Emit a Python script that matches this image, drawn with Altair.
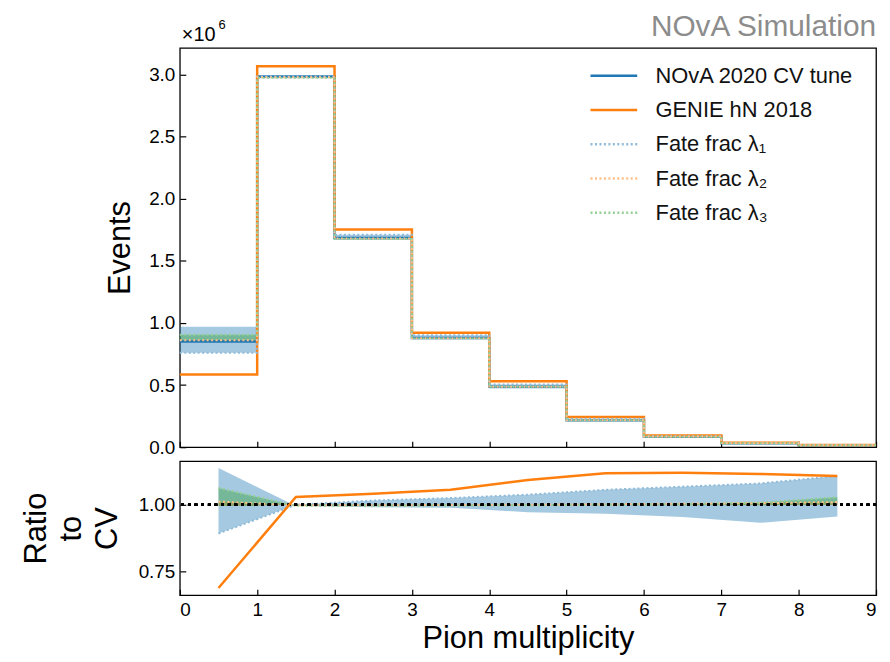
import altair as alt
import pandas as pd

# ---------------- data ----------------
bin_edges = [0, 1, 2, 3, 4, 5, 6, 7, 8, 9]
bin_centers = [0.5, 1.5, 2.5, 3.5, 4.5, 5.5, 6.5, 7.5, 8.5]

# events per bin, in units of 1e6
cv_events = [0.852, 2.986, 1.684, 0.879, 0.487, 0.217, 0.084, 0.031, 0.016]
genie_events = [0.586, 3.068, 1.754, 0.922, 0.532, 0.243, 0.094, 0.035, 0.018]

# ratio to CV (lower panel)
ratio_genie = [0.687, 1.029, 1.041, 1.056, 1.093, 1.118, 1.120, 1.116, 1.108]
lam1_edge = [0.892, 1.000, 1.016, 1.025, 1.038, 1.056, 1.068, 1.080, 1.108]
lam1_other = [1.138, 0.995, 0.991, 0.989, 0.972, 0.966, 0.954, 0.932, 0.956]
lam2_edge = [1.012, 0.998, 0.998, 0.999, 1.000, 1.002, 1.004, 1.006, 1.010]
lam2_other = [0.995, 1.000, 1.000, 1.000, 1.000, 1.000, 0.999, 0.999, 0.999]
lam3_edge = [1.063, 0.996, 0.996, 0.997, 0.998, 1.000, 1.002, 1.008, 1.028]
lam3_other = [0.995, 1.000, 1.000, 1.000, 1.000, 0.999, 0.998, 0.998, 1.000]

series_names = ["NOvA 2020 CV tune", "GENIE hN 2018",
                "Fate frac λ₁", "Fate frac λ₂", "Fate frac λ₃"]
x_ticks = [0, 1, 2, 3, 4, 5, 6, 7, 8, 9]
y_ticks_top = [0.0, 0.5, 1.0, 1.5, 2.0, 2.5, 3.0]
y_ticks_ratio = [0.75, 1.00]
annotations = ["×10", "6", "NOvA Simulation"]
ratio_title = ["Ratio", "to", "CV"]

BLUE, ORANGE, GREEN = "#1f77b4", "#ff7f0e", "#2ca02c"
LBLUE, LORANGE, LGREEN = "#8fbbd9", "#ffbf86", "#95cf95"
FONT = "Liberation Sans"
W, H_TOP, H_RAT = 701, 402, 135

lam_sets = [(series_names[2], lam1_edge, lam1_other, BLUE, LBLUE),
            (series_names[3], lam2_edge, lam2_other, ORANGE, LORANGE),
            (series_names[4], lam3_edge, lam3_other, GREEN, LGREEN)]


def stepped(v):
    return list(v) + [v[-1]]


# top panel tables
rows = []
for name, vals in [(series_names[0], cv_events), (series_names[1], genie_events)]:
    for x, y in zip(bin_edges, stepped(vals)):
        rows.append({"series": name, "x": x, "y": y})
brows = []
for name, e, o, _c, _l in lam_sets:
    for x, c, ee, oo in zip(bin_edges, stepped(cv_events), stepped(e), stepped(o)):
        rows.append({"series": name, "x": x, "y": c * ee})
        brows.append({"band": name, "x": x, "lo": c * ee, "hi": c * oo})
top_lines = pd.DataFrame(rows)
top_bands = pd.DataFrame(brows)

# ratio tables
rrows = []
for name, e, o, _c, _l in lam_sets:
    for x, ee, oo in zip(bin_centers, e, o):
        rrows.append({"band": name, "x": x, "lo": ee, "hi": oo})
ratio_bands = pd.DataFrame(rrows)
ratio_line = pd.DataFrame({"x": bin_centers, "y": ratio_genie})
ann = pd.DataFrame({"t": annotations})

# ---------------- scales / axes ----------------
x_scale = alt.Scale(domain=[0, 9], nice=False, zero=False)
y_top_scale = alt.Scale(domain=[0, 3.215], nice=False)
y_rat_scale = alt.Scale(domain=[0.66, 1.164], nice=False, zero=False)

common_axis = dict(tickSize=6, offset=-6, domain=False, grid=False,
                   tickColor="black", tickWidth=1.2, labelColor="black",
                   labelFont=FONT, labelFontSize=19, titleFont=FONT,
                   titleFontWeight="normal", titleColor="black")

x_axis_top = alt.Axis(values=x_ticks, labels=False, title=None, **common_axis)
y_axis_top = alt.Axis(values=y_ticks_top, format=".1f", labelPadding=5,
                      title="Events", titleFontSize=31, titleAngle=270,
                      titleX=-57, titleY=H_TOP / 2, titleAlign="center",
                      titleBaseline="alphabetic", **common_axis)
x_axis_rat = alt.Axis(values=x_ticks, format="d", labelPadding=5,
                      title="Pion multiplicity", titleFontSize=31,
                      titleX=W / 2, titleY=59, titleAlign="center",
                      titleBaseline="alphabetic", **common_axis)
y_axis_rat = alt.Axis(values=y_ticks_ratio, format=".2f", labelPadding=5,
                      title=ratio_title, titleFontSize=31, titleAngle=270,
                      titleX=-150, titleY=H_RAT / 2, titleAlign="center",
                      titleBaseline="middle", titleLineHeight=35.5,
                      **common_axis)

legend = alt.Legend(title=None, orient="none", legendX=412, legendY=17,
                    symbolType="stroke", symbolSize=2209, symbolStrokeWidth=2.5,
                    clipHeight=22, rowPadding=12.5, labelFont=FONT,
                    labelFontSize=22, labelColor="#111111", labelOffset=17,
                    labelLimit=400, padding=0)
color_enc = alt.Color("series:N", scale=alt.Scale(
    domain=series_names, range=[BLUE, ORANGE, LBLUE, LORANGE, LGREEN]), legend=legend)
dash_enc = alt.StrokeDash("series:N", scale=alt.Scale(
    domain=series_names, range=[[1, 0], [1, 0], [2, 2.5], [2, 2.5], [2, 2.5]]),
    legend=legend)

# ---------------- top panel ----------------
top_layers = []
for name, _e, _o, col, _l in lam_sets:
    top_layers.append(
        alt.Chart(top_bands).transform_filter(alt.datum.band == name)
        .mark_area(interpolate="step-after", color=col, opacity=0.4)
        .encode(x=alt.X("x:Q", scale=x_scale, axis=x_axis_top),
                y=alt.Y("lo:Q", scale=y_top_scale, axis=y_axis_top),
                y2="hi:Q"))

solid = (alt.Chart(top_lines)
         .transform_filter(alt.FieldOneOfPredicate(field="series", oneOf=series_names[:2]))
         .mark_line(interpolate="step-after", strokeWidth=2.5)
         .encode(x=alt.X("x:Q", scale=x_scale, axis=x_axis_top),
                 y=alt.Y("y:Q", scale=y_top_scale, axis=y_axis_top),
                 color=color_enc, strokeDash=dash_enc,
                 order=alt.Order("x:Q")))
dotted = (alt.Chart(top_lines)
          .transform_filter(alt.FieldOneOfPredicate(field="series", oneOf=series_names[2:]))
          .mark_line(interpolate="step-after", strokeWidth=2)
          .encode(x=alt.X("x:Q", scale=x_scale, axis=x_axis_top),
                  y=alt.Y("y:Q", scale=y_top_scale, axis=y_axis_top),
                  color=color_enc, strokeDash=dash_enc,
                  order=alt.Order("x:Q")))

times10 = (alt.Chart(ann).transform_filter(alt.datum.t == annotations[0])
           .mark_text(align="left", baseline="alphabetic", font=FONT, fontSize=20, color="black")
           .encode(text="t:N", x=alt.value(2), y=alt.value(-7)))
exp6 = (alt.Chart(ann).transform_filter(alt.datum.t == annotations[1])
        .mark_text(align="left", baseline="alphabetic", font=FONT, fontSize=13, color="black")
        .encode(text="t:N", x=alt.value(39), y=alt.value(-19)))
nova = (alt.Chart(ann).transform_filter(alt.datum.t == annotations[2])
        .mark_text(align="right", baseline="alphabetic", font=FONT, fontSize=30, color="#8c8c8c")
        .encode(text="t:N", x=alt.value(W), y=alt.value(-12)))

top = alt.layer(*top_layers, solid, dotted, times10, exp6, nova).properties(width=W, height=H_TOP)

# ---------------- ratio panel ----------------
rat_layers = []
for name, _e, _o, col, _l in lam_sets:
    rat_layers.append(
        alt.Chart(ratio_bands).transform_filter(alt.datum.band == name)
        .mark_area(color=col, opacity=0.4)
        .encode(x=alt.X("x:Q", scale=x_scale, axis=x_axis_rat),
                y=alt.Y("lo:Q", scale=y_rat_scale, axis=y_axis_rat),
                y2="hi:Q"))
for name, _e, _o, col, lcol in lam_sets:
    rat_layers.append(
        alt.Chart(ratio_bands).transform_filter(alt.datum.band == name)
        .mark_line(color=lcol, strokeWidth=2, strokeDash=[2, 2.5])
        .encode(x=alt.X("x:Q", scale=x_scale, axis=x_axis_rat),
                y=alt.Y("lo:Q", scale=y_rat_scale, axis=y_axis_rat)))
unity = (alt.Chart(ratio_line).mark_rule(color="black", strokeWidth=2.5, strokeDash=[2.7, 4])
         .encode(y=alt.datum(1.0)))
genie_ratio_line = (alt.Chart(ratio_line).mark_line(color=ORANGE, strokeWidth=2.5)
                    .encode(x=alt.X("x:Q", scale=x_scale, axis=x_axis_rat),
                            y=alt.Y("y:Q", scale=y_rat_scale, axis=y_axis_rat)))

ratio = alt.layer(*rat_layers, unity, genie_ratio_line).properties(width=W, height=H_RAT)

chart = (alt.vconcat(top, ratio, spacing=2)
         .properties(padding={"left": 12, "top": 1, "right": 0, "bottom": 0})
         .configure(font=FONT)
         .configure_view(stroke="black", strokeWidth=1.3))

chart.save("out.html", embed_options={"renderer": "svg", "actions": False})
